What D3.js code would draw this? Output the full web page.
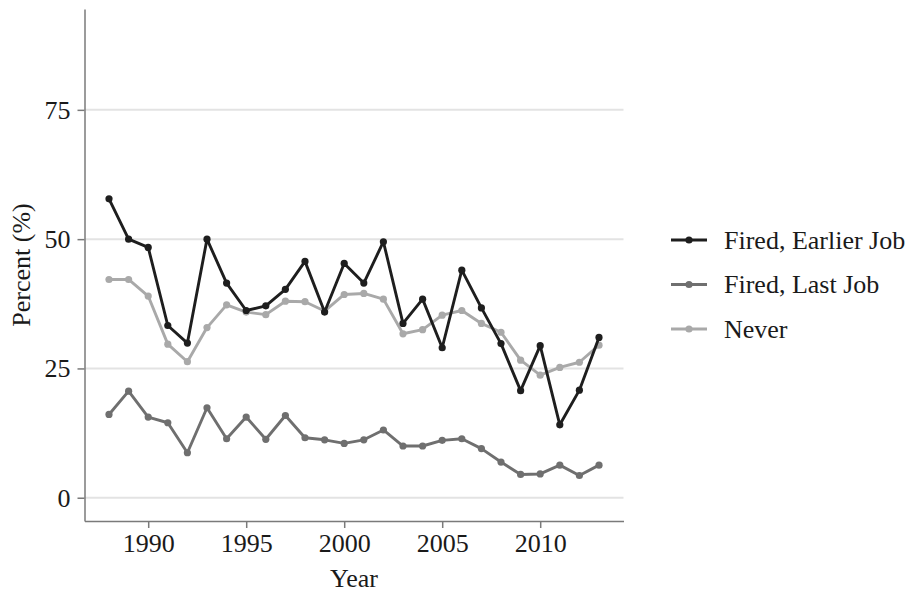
<!DOCTYPE html>
<html>
<head>
<meta charset="utf-8">
<script src="https://cdn.jsdelivr.net/npm/d3@7"></script>
<style>
  body { margin: 0; background: #fff; }
  svg text { font-family: "Liberation Serif", "DejaVu Serif", serif; fill: #1a1a1a; }
  .axis .domain { stroke: #7a7a7a; stroke-width: 1.5; }
  .axis .tick line { stroke: #7a7a7a; stroke-width: 1.5; }
  .axis .tick text { font-size: 26px; fill: #1a1a1a; font-family: "Liberation Serif", "DejaVu Serif", serif; }
</style>
</head>
<body>
<div id="chart"></div>
<script>
'use strict';

// Data
var years = [1988, 1989, 1990, 1991, 1992, 1993, 1994, 1995, 1996, 1997, 1998, 1999, 2000,
	2001, 2002, 2003, 2004, 2005, 2006, 2007, 2008, 2009, 2010, 2011, 2012, 2013];
var firedEarlier = [57.8, 50.0, 48.4, 33.3, 29.9, 50.0, 41.5, 36.2, 37.1, 40.3, 45.7, 35.9, 45.3,
	41.5, 49.5, 33.7, 38.4, 29.0, 44.0, 36.7, 29.8, 20.7, 29.4, 14.1, 20.8, 31.0];
var firedLast = [16.1, 20.6, 15.6, 14.5, 8.7, 17.4, 11.4, 15.6, 11.3, 15.9, 11.6, 11.2, 10.5,
	11.2, 13.1, 10.0, 10.0, 11.1, 11.4, 9.5, 6.9, 4.5, 4.6, 6.3, 4.3, 6.3];
var never = [42.2, 42.2, 39.0, 29.7, 26.3, 32.9, 37.3, 35.9, 35.4, 38.0, 37.9, 36.1, 39.3,
	39.5, 38.4, 31.7, 32.5, 35.3, 36.2, 33.7, 32.0, 26.6, 23.7, 25.2, 26.2, 29.5];
var seriesNames = ['Fired, Earlier Job', 'Fired, Last Job', 'Never'];
var yTicks = [0, 25, 50, 75];
var xTicks = [1990, 1995, 2000, 2005, 2010];

var series = [
	{name: seriesNames[0], values: firedEarlier, color: '#1e1e1e'},
	{name: seriesNames[1], values: firedLast, color: '#6f6f6f'},
	{name: seriesNames[2], values: never, color: '#a9a9a9'}
];

var svg = d3.select('#chart').append('svg')
	.attr('width', 912)
	.attr('height', 594);

// Scales (panel expanded 5% like ggplot)
var x = d3.scaleLinear().domain([1986.75, 2014.25]).range([84.5, 623.5]);
var y = d3.scaleLinear().domain([-4.5, 94.5]).range([521, 9]);

// Grid
svg.append('g').attr('class', 'grid')
	.selectAll('line')
	.data(yTicks)
	.enter().append('line')
		.attr('x1', x.range()[0])
		.attr('x2', x.range()[1])
		.attr('y1', function(d) { return y(d); })
		.attr('y2', function(d) { return y(d); })
		.attr('stroke', '#e3e3e3')
		.attr('stroke-width', 2);

// Axes
svg.append('g')
	.attr('class', 'axis axis-x')
	.attr('transform', 'translate(0,521)')
	.call(d3.axisBottom(x).tickValues(xTicks).tickFormat(d3.format('d')).tickSize(7).tickSizeOuter(0).tickPadding(5.5));

svg.append('g')
	.attr('class', 'axis axis-y')
	.attr('transform', 'translate(84.5,0)')
	.call(d3.axisLeft(y).tickValues(yTicks).tickSize(7).tickSizeOuter(0).tickPadding(7));

// Lines and points
var line = d3.line()
	.x(function(d, i) { return x(years[i]); })
	.y(function(d) { return y(d); });

var g = svg.append('g').attr('class', 'series');
series.slice().reverse().forEach(function(s) {
	g.append('path')
		.datum(s.values)
		.attr('fill', 'none')
		.attr('stroke', s.color)
		.attr('stroke-width', 2.9)
		.attr('stroke-linejoin', 'round')
		.attr('d', line);
	g.selectAll(null)
		.data(s.values)
		.enter().append('circle')
			.attr('cx', function(d, i) { return x(years[i]); })
			.attr('cy', function(d) { return y(d); })
			.attr('r', 3.6)
			.attr('fill', s.color);
});

// Axis titles
svg.append('text')
	.attr('x', (x.range()[0] + x.range()[1]) / 2)
	.attr('y', 587)
	.attr('text-anchor', 'middle')
	.style('font-size', '26px')
	.text('Year');

svg.append('text')
	.attr('transform', 'translate(30,' + (y.range()[0] + y.range()[1]) / 2 + ') rotate(-90)')
	.attr('text-anchor', 'middle')
	.style('font-size', '26px')
	.text('Percent (%)');

// Legend
var legend = svg.append('g')
	.attr('class', 'legend')
	.attr('transform', 'translate(671,240)');

var item = legend.selectAll('.legend-item')
	.data(series)
	.enter().append('g')
		.attr('class', 'legend-item')
		.attr('transform', function(d, i) { return 'translate(0,' + (i * 44.5) + ')'; });

item.append('line')
	.attr('x1', 0).attr('x2', 36)
	.attr('stroke', function(d) { return d.color; })
	.attr('stroke-width', 2.9);
item.append('circle')
	.attr('cx', 18)
	.attr('r', 3.6)
	.attr('fill', function(d) { return d.color; });
item.append('text')
	.attr('x', 53)
	.attr('dy', '0.33em')
	.style('font-size', '26px')
	.text(function(d) { return d.name; });
</script>
</body>
</html>
